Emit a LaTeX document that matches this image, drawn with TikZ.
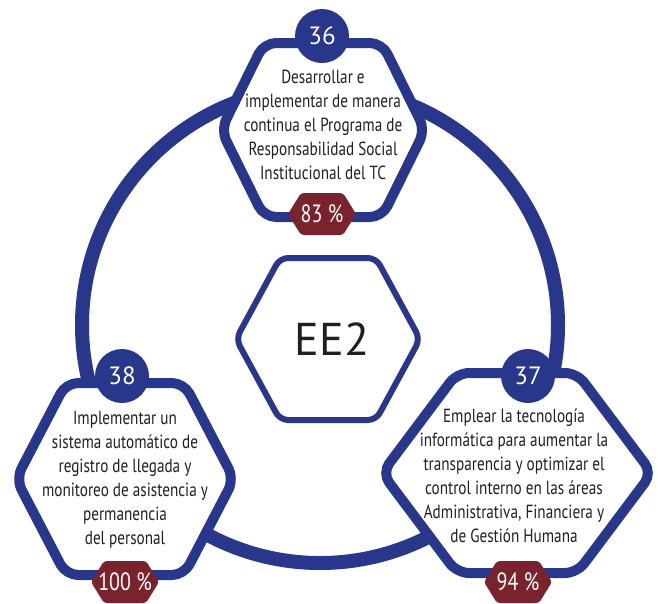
\documentclass[tikz,border=0pt]{standalone}
\usepackage{fontspec}
\setmainfont{PT Sans}[FakeStretch=0.8]
\newfontfamily\widefont{PT Sans}
\definecolor{eeblue}{RGB}{40,54,140}
\definecolor{eered}{RGB}{122,35,46}
\definecolor{eetext}{RGB}{35,31,32}

\begin{document}
\begin{tikzpicture}[x=1pt,y=-1pt,
  every node/.style={text=eetext,align=center,font=\fontsize{19}{24}\selectfont},
  hexline/.style={draw=eeblue,line width=10pt,fill=white,rounded corners=12pt},
  badge/.style={fill=eered,rounded corners=3pt},
  numdisk/.style={circle,fill=eeblue,minimum size=54pt,inner sep=0pt,text=white,font=\widefont\fontsize{25}{25}\selectfont},
  pct/.style={text=white,inner sep=0pt,font=\fontsize{25}{25}\selectfont}]
  \useasboundingbox (0,0) rectangle (658,603);
  % outer ring behind everything
  \draw[eeblue,line width=14pt] (320,325) circle (238pt);
  % centre hexagon
  \draw[draw=eeblue,line width=6pt,fill=white,rounded corners=8pt]
    (328,258) -- (376,258) -- (420,339) -- (376,420) -- (280,420) -- (236,339) -- (280,258) -- cycle;
  \node[font=\widefont\fontsize{46}{46}\selectfont] (ee2) at (332,339) {EE2};
  % the three goal hexagons: centre x/y, half width, half height, half top edge
  \foreach \x/\y/\a/\b/\c in {323/130/102/87/59, 125/479/109/96/59, 517/473/135/100/60}
    \draw[hexline] (\x,\y-\b) -- (\x+\c,\y-\b) -- (\x+\a,\y) -- (\x+\c,\y+\b)
      -- (\x-\c,\y+\b) -- (\x-\a,\y) -- (\x-\c,\y-\b) -- cycle;
  % red badges with the percentages
  \foreach \x/\y in {322/214, 125/582, 518/582}
    \fill[badge] (\x,\y-21) -- (\x+21,\y-21) -- (\x+34,\y) -- (\x+21,\y+21)
      -- (\x-21,\y+21) -- (\x-34,\y) -- (\x-21,\y-21) -- cycle;
  \node[pct] (pct36) at (322,214) {83 \%};
  \node[pct] (pct38) at (125,582) {100 \%};
  \node[pct] (pct37) at (518,582) {94 \%};
  % goal numbers
  \node[numdisk] (num36) at (322,36) {36};
  \node[numdisk] (num38) at (122,376) {38};
  \node[numdisk] (num37) at (528,376) {37};
  % goal texts
  \node (goal36) at (323,125) {Desarrollar e\\implementar de manera\\continua el Programa de\\Responsabilidad Social\\Institucional del TC};
  \node (goal38) at (125,480) {Implementar un\\sistema automático de\\registro de llegada y\\monitoreo de asistencia y\\permanencia\\del personal};
  \node (goal37) at (514,476) {Emplear la tecnología\\informática para aumentar la\\transparencia y optimizar el\\control interno en las áreas\\Administrativa, Financiera y\\de Gestión Humana};
\end{tikzpicture}
\end{document}
